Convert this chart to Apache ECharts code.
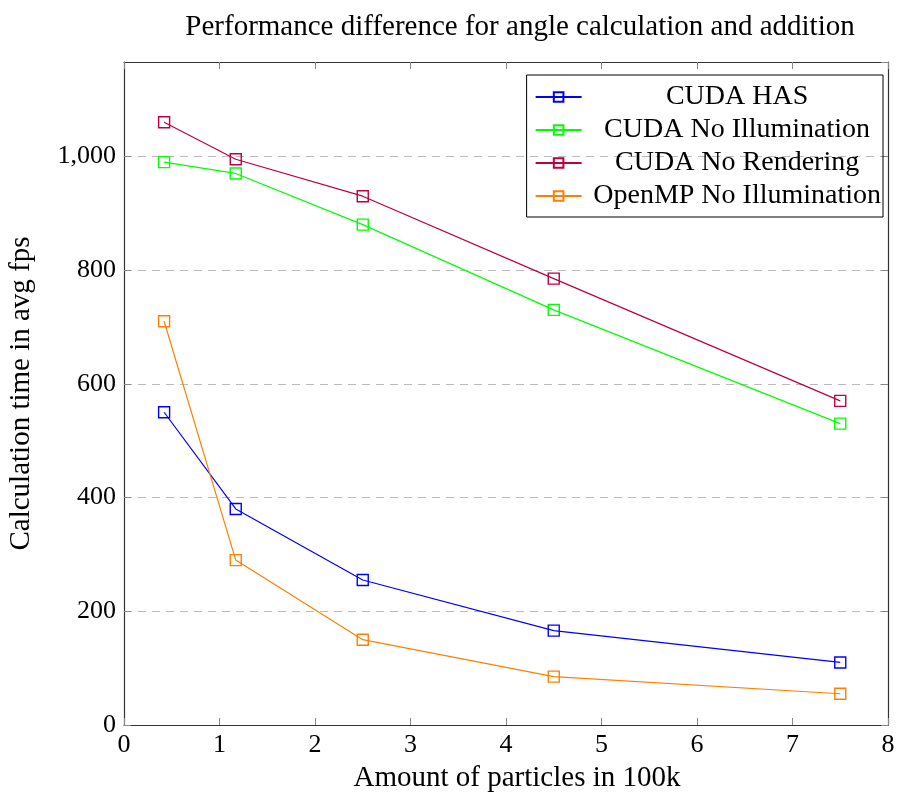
<!DOCTYPE html>
<html>
<head>
<meta charset="utf-8">
<script src="https://cdn.jsdelivr.net/npm/echarts@6/dist/echarts.min.js"></script>
<style>
  html, body { margin: 0; padding: 0; background: #fff; }
  #chart { width: 902px; height: 797px; }
</style>
</head>
<body>
<div id="chart"></div>
<script>
// particles (in 100k) on x
var particles = [0.42, 1.17, 2.5, 4.5, 7.5];
// avg fps per series
var cudaHas = [550, 380, 255, 166, 110];
var cudaNoIllum = [990, 970, 880, 730, 530];
var cudaNoRender = [1060, 995, 930, 785, 570];
var openmpNoIllum = [710, 290, 150, 85, 55];

var seriesNames = ['CUDA HAS', 'CUDA No Illumination', 'CUDA No Rendering', 'OpenMP No Illumination'];
var seriesData = [cudaHas, cudaNoIllum, cudaNoRender, openmpNoIllum];
var colors = ['#0000ff', '#00ff00', '#bf0040', '#ff8000'];

var font = '"Liberation Serif", "DejaVu Serif", serif';

function pairs(ys) {
    return particles.map(function (x, i) { return [x, ys[i]]; });
}

var chart = echarts.init(document.getElementById('chart'));

var axisLine = { show: true, onZero: false, lineStyle: { color: '#333', width: 1.2 } };
var tickIn = { show: true, inside: true, length: 7, lineStyle: { color: '#888' } };

var option = {
    backgroundColor: '#fff',
    animation: false,
    textStyle: { fontFamily: font },
    title: {
        text: 'Performance difference for angle calculation and addition',
        left: 515,
        textAlign: 'center',
        top: 8,
        textStyle: { fontFamily: font, fontSize: 29, fontWeight: 'normal', color: '#000' }
    },
    legend: {
        orient: 'vertical',
        right: 19,
        top: 75,
        padding: [8, 2, 7, 8],
        itemGap: 5,
        itemWidth: 46,
        itemHeight: 12,
        borderColor: '#000',
        borderWidth: 1,
        formatter: function (name) { return '{c|' + name + '}'; },
        textStyle: {
            fontFamily: font, fontSize: 28, color: '#000',
            rich: { c: { width: 301, align: 'center', fontFamily: font, fontSize: 28, color: '#000' } }
        },
        data: seriesNames
    },
    grid: { left: 124, right: 14, top: 62, bottom: 72, outerBoundsMode: 'none', containLabel: false },
    xAxis: [{
        type: 'value',
        min: 0,
        max: 8,
        interval: 1,
        name: 'Amount of particles in 100k',
        nameLocation: 'middle',
        nameGap: 39,
        nameTextStyle: { fontFamily: font, fontSize: 29, color: '#000', padding: [0, 0, 0, 22] },
        axisLine: axisLine,
        axisTick: tickIn,
        axisLabel: { fontFamily: font, fontSize: 26, color: '#000', margin: 7 },
        splitLine: { show: false }
    }, {
        type: 'value',
        position: 'top',
        min: 0,
        max: 8,
        interval: 1,
        axisLine: axisLine,
        axisTick: tickIn,
        axisLabel: { show: false },
        splitLine: { show: false }
    }],
    yAxis: [{
        type: 'value',
        min: 0,
        max: 1166,
        interval: 200,
        name: 'Calculation time in avg fps',
        nameLocation: 'middle',
        nameGap: 88,
        nameTextStyle: { fontFamily: font, fontSize: 29, color: '#000' },
        axisLine: axisLine,
        axisTick: tickIn,
        axisLabel: {
            fontFamily: font, fontSize: 26, color: '#000', margin: 8,
            showMaxLabel: false,
            formatter: function (v) { return v >= 1000 ? v.toLocaleString('en-US') : String(v); }
        },
        splitLine: { show: true, lineStyle: { color: '#bbb', type: [8, 6], width: 1 } }
    }, {
        type: 'value',
        position: 'right',
        min: 0,
        max: 1166,
        interval: 200,
        axisLine: axisLine,
        axisTick: tickIn,
        axisLabel: { show: false },
        splitLine: { show: false }
    }],
    series: seriesNames.map(function (name, i) {
        return {
            name: name,
            type: 'line',
            data: pairs(seriesData[i]),
            symbol: 'rect',
            symbolSize: 11,
            showAllSymbol: true,
            color: colors[i],
            lineStyle: { color: colors[i], width: 1.2 },
            itemStyle: { color: 'rgba(255,255,255,0)', borderColor: colors[i], borderWidth: 1.4 },
            z: 3
        };
    })
};

chart.setOption(option);
</script>
</body>
</html>
